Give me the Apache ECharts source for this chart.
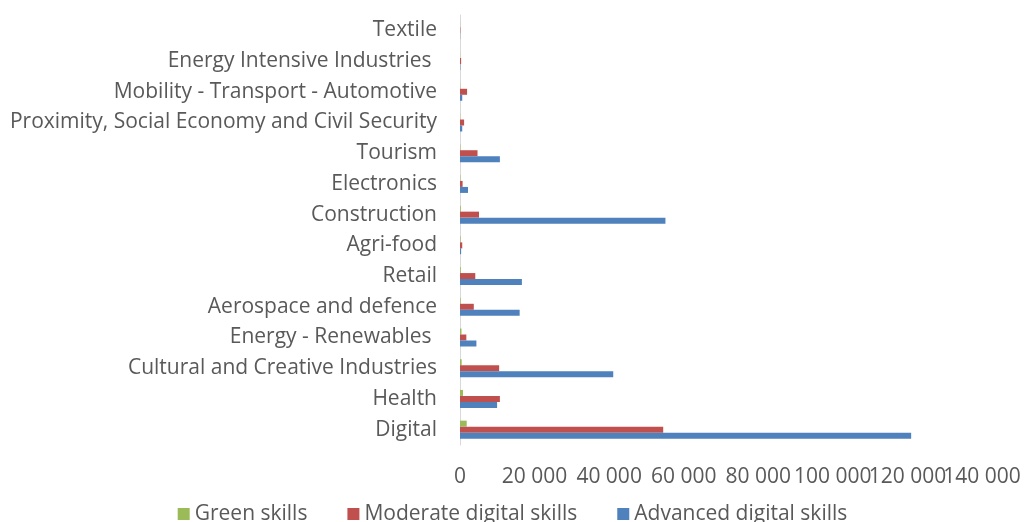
<!DOCTYPE html>
<html>
<head>
<meta charset="utf-8">
<script src="https://cdn.jsdelivr.net/npm/echarts@6/dist/echarts.min.js"></script>
<style>
  html, body { margin: 0; padding: 0; background: #ffffff; }
  #chart { width: 1025px; height: 522px; }
</style>
</head>
<body>
<div id="chart"></div>
<script>
// Sectors, listed from the bottom of the axis to the top
const categories = [
  'Digital',
  'Health',
  'Cultural and Creative Industries',
  'Energy - Renewables ',
  'Aerospace and defence',
  'Retail',
  'Agri-food',
  'Construction',
  'Electronics',
  'Tourism',
  'Proximity, Social Economy and Civil Security',
  'Mobility - Transport - Automotive',
  'Energy Intensive Industries ',
  'Textile'
];

const greenSkills = [1800, 800, 450, 400, 150, 200, 150, 200, 100, 100, 50, 50, 30, 20];
const moderateDigital = [54500, 10700, 10500, 1700, 3700, 4100, 600, 5100, 700, 4700, 1100, 1900, 300, 100];
const advancedDigital = [121000, 9950, 41100, 4400, 16000, 16600, 300, 55100, 2150, 10700, 600, 600, 100, 50];

const seriesNames = ['Green skills', 'Moderate digital skills', 'Advanced digital skills'];
const xTicks = { min: 0, max: 140000, step: 20000 };

const FONT = '"Open Sans", Lato, "Liberation Sans", sans-serif';
const TEXT = '#595959';
const SIZE = 21;

function spaced(v) {
  return String(v).replace(/\B(?=(\d{3})+(?!\d))/g, ' ');
}

const chart = echarts.init(document.getElementById('chart'), null, { renderer: 'canvas' });

const colors = ['#9BBB59', '#C0504D', '#4F81BD'];
const values = [greenSkills, moderateDigital, advancedDigital];

const valueLabel = {
  color: TEXT,
  fontSize: SIZE,
  fontFamily: FONT,
  margin: 22,
  hideOverlap: false
};

// The labels touch at the right end, so the last tick label sits on a
// twin axis; otherwise the axis would drop one of the crowded labels.
const baseValueAxis = {
  type: 'value',
  position: 'bottom',
  min: xTicks.min,
  max: xTicks.max,
  interval: xTicks.step,
  axisLine: { show: false },
  axisTick: { show: false },
  splitLine: { show: false }
};

chart.setOption({
  animation: false,
  textStyle: { fontFamily: FONT },
  grid: { left: 460, right: 43, top: 15, bottom: 77, containLabel: false },
  legend: {
    data: seriesNames,
    top: 496,
    left: 'center',
    itemWidth: 12,
    itemHeight: 12,
    itemGap: 40,
    icon: 'rect',
    textStyle: { color: TEXT, fontSize: SIZE, fontFamily: FONT, lineHeight: 26 }
  },
  xAxis: [
    Object.assign({}, baseValueAxis, {
      axisLabel: Object.assign({}, valueLabel, {
        showMinLabel: true,
        showMaxLabel: false,
        formatter: spaced
      })
    }),
    Object.assign({}, baseValueAxis, {
      axisLabel: Object.assign({}, valueLabel, {
        showMaxLabel: true,
        formatter: v => (v === xTicks.max ? spaced(v) : '')
      })
    })
  ],
  yAxis: {
    type: 'category',
    data: categories,
    axisLine: { show: true, lineStyle: { color: '#D9D9D9', width: 1 } },
    axisTick: { show: false },
    axisLabel: {
      color: TEXT,
      fontSize: SIZE,
      fontFamily: FONT,
      margin: 23,
      padding: [4, 0, 0, 0],
      interval: 0
    }
  },
  series: seriesNames.map((name, i) => ({
    name: name,
    type: 'bar',
    xAxisIndex: 0,
    data: values[i],
    barWidth: 6,
    barGap: '0%',
    itemStyle: { color: colors[i] }
  }))
});
</script>
</body>
</html>
